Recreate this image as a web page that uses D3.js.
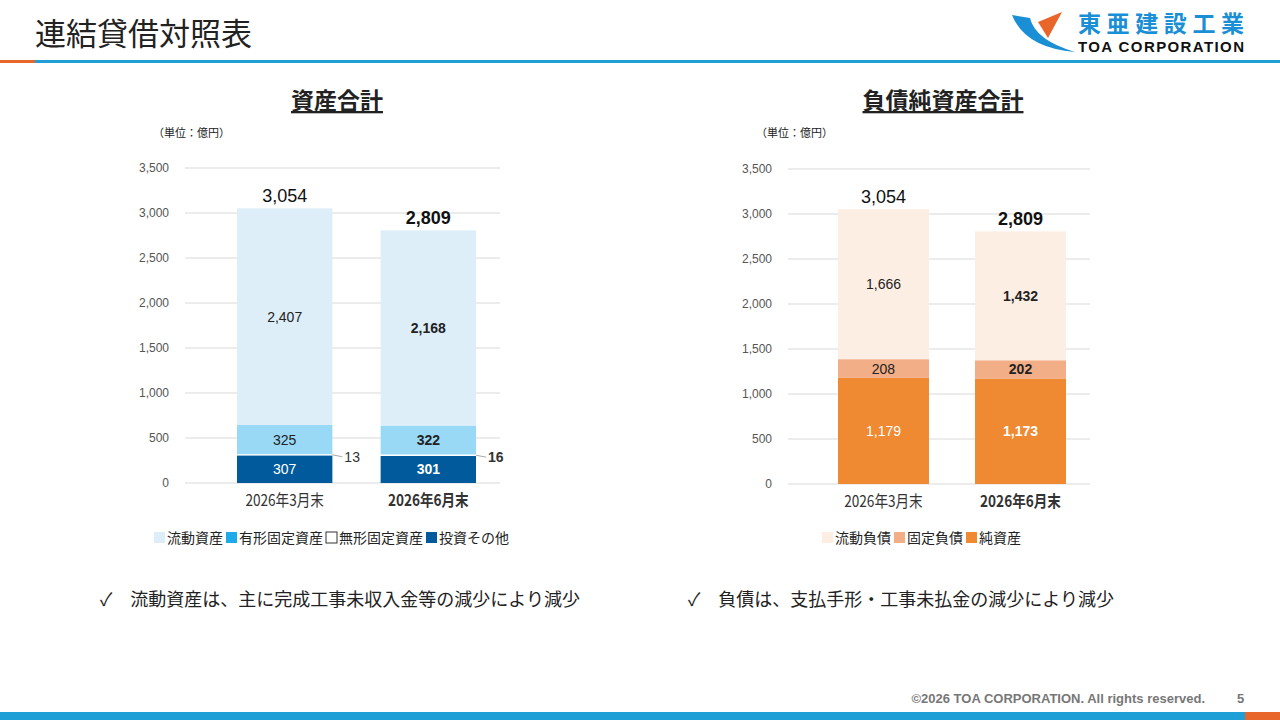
<!DOCTYPE html>
<html><head><meta charset="utf-8">
<script src="https://cdn.jsdelivr.net/npm/d3@7"></script>
<style>body{margin:0;background:#fff;font-family:"Noto Sans CJK JP","Noto Sans",sans-serif}</style>
</head><body>
<svg id="c" width="1280" height="720"></svg>
<script>
const categories = ["2026年3月末", "2026年6月末"];
const yTicks = [0,500,1000,1500,2000,2500,3000,3500];
const assetSeries = ["投資その他","無形固定資産","有形固定資産","流動資産"];
const assetValues = [[307,301],[13,16],[325,322],[2407,2168]];
const assetTotals = [3054, 2809];
const liabSeries = ["純資産","固定負債","流動負債"];
const liabValues = [[1179,1173],[208,202],[1666,1432]];
const liabTotals = [3054, 2809];

const svg = d3.select("#c");
const F = '"Noto Sans CJK JP",sans-serif';
svg.append("text").attr("x",35).attr("y",45).attr("font-size",31).attr("font-family",F).attr("fill","#222").text("連結貸借対照表");
svg.append("rect").attr("x",0).attr("y",60).attr("width",1280).attr("height",3).attr("fill","#1ea0d7");
svg.append("rect").attr("x",0).attr("y",60).attr("width",35).attr("height",3).attr("fill","#e8662a");
svg.append("text").attr("x",1078).attr("y",32).attr("font-size",23).attr("font-weight","bold").attr("font-family",F).attr("fill","#1a8fd6").attr("textLength",166).text("東亜建設工業");
svg.append("text").attr("x",1078).attr("y",52).attr("font-size",15).attr("font-weight","bold").attr("font-family","Liberation Sans Narrow,Arial").attr("fill","#111").attr("textLength",166).text("TOA CORPORATION");
svg.append("path").attr("d","M1012 15 Q1025 48 1075 52 Q1035 40 1030 18 Z").attr("fill","#1a8fd6");
svg.append("path").attr("d","M1038 22 L1062 12 L1048 38 Z").attr("fill","#e8662a");
svg.append("rect").attr("x",0).attr("y",712).attr("width",1280).attr("height",8).attr("fill","#1ea0d7");
svg.append("rect").attr("x",1245).attr("y",712).attr("width",35).attr("height",8).attr("fill","#e8662a");
svg.append("text").attr("x",1205).attr("y",703).attr("text-anchor","end").attr("font-size",13).attr("font-weight","bold").attr("font-family","Liberation Sans,Arial").attr("fill","#777").text("©2026 TOA CORPORATION. All rights reserved.");
svg.append("text").attr("x",1237).attr("y",703).attr("font-size",13).attr("font-weight","bold").attr("font-family","Liberation Sans,Arial").attr("fill","#777").text("5");

function chart(o){
  const g = svg.append("g");
  const y = d3.scaleLinear().domain([0,3500]).range([o.y0,o.y0-315]);
  const x = d3.scaleBand().domain(categories).range([o.b0,o.b1]).paddingInner(0.336).paddingOuter(0);
  g.append("text").attr("x",o.tx).attr("y",109).attr("text-anchor","middle").attr("font-size",23).attr("font-weight","bold").attr("font-family",F).attr("fill","#222").attr("text-decoration","underline").text(o.title);
  g.append("text").attr("x",o.x0-32).attr("y",137).attr("font-size",11).attr("font-family",F).attr("fill","#222").text("（単位：億円）");
  yTicks.forEach(t=>{
    g.append("line").attr("x1",o.x0).attr("x2",o.x1).attr("y1",y(t)).attr("y2",y(t)).attr("stroke","#d9d9d9");
    g.append("text").attr("x",o.x0-16).attr("y",y(t)+4).attr("text-anchor","end").attr("font-size",12).attr("font-family","Liberation Sans,Arial").attr("fill","#555").text(d3.format(",")(t));
  });
  const stack = categories.map((c,i)=>{let acc=0;return o.values.map((v,s)=>{const r={s,c,i,v:v[i],lo:acc,hi:acc+v[i]};acc+=v[i];return r;});});
  stack.flat().forEach(d=>{
    g.append("rect").attr("x",x(d.c)).attr("width",x.bandwidth()).attr("y",y(d.hi)).attr("height",y(d.lo)-y(d.hi)).attr("fill",o.colors[d.s]);
    if(o.outside && o.outside(d)){
      const xr=x(d.c)+x.bandwidth(), ym=y((d.lo+d.hi)/2);
      g.append("line").attr("x1",xr).attr("x2",xr+10).attr("y1",ym).attr("y2",ym+2).attr("stroke","#aaa");
      g.append("text").attr("x",xr+12).attr("y",ym+7).attr("font-size",14).attr("font-weight",d.i?"bold":"normal").attr("font-family","Liberation Sans,Arial").attr("fill","#333").text(d.v);
    } else {
      g.append("text").attr("x",x(d.c)+x.bandwidth()/2).attr("y",y((d.lo+d.hi)/2)+5).attr("text-anchor","middle").attr("font-size",14).attr("font-weight",d.i?"bold":"normal").attr("font-family","Liberation Sans,Arial").attr("fill",o.txt[d.s]).text(d3.format(",")(d.v));
    }
  });
  categories.forEach((c,i)=>{
    const cx=x(c)+x.bandwidth()/2;
    g.append("text").attr("x",cx).attr("y",y(o.totals[i])-6).attr("text-anchor","middle").attr("font-size",18).attr("font-weight",i?"bold":"normal").attr("font-family","Liberation Sans,Arial").attr("fill","#111").text(d3.format(",")(o.totals[i]));
    g.append("text").attr("x",cx).attr("y",o.y0+23).attr("text-anchor","middle").attr("font-size",16).attr("font-weight",i?"bold":"normal").attr("font-family",F).attr("fill","#333").attr("transform",`translate(${cx},0) scale(0.85,1) translate(${-cx},0)`).text(c);
  });
  let lx=o.lx;
  o.legend.forEach(l=>{
    g.append("rect").attr("x",lx).attr("y",532).attr("width",11).attr("height",11).attr("fill",l.c).attr("stroke",l.c==="#ffffff"?"#333":"none");
    const t=g.append("text").attr("x",lx+13).attr("y",543).attr("font-size",14).attr("font-family",F).attr("fill","#222").text(l.n);
    lx+=13+t.node().getComputedTextLength()+3;
  });
}
chart({title:"資産合計",tx:337,x0:185,x1:500,b0:237,b1:476,y0:483,values:assetValues,totals:assetTotals,
  colors:["#005a9c","#ffffff","#99d9f5","#ddeef9"],txt:["#fff","#333","#222","#222"],
  outside:d=>d.s===1,lx:154,
  legend:[{n:"流動資産",c:"#ddeef9"},{n:"有形固定資産",c:"#1eaae8"},{n:"無形固定資産",c:"#ffffff"},{n:"投資その他",c:"#005a9c"}]});
chart({title:"負債純資産合計",tx:943,x0:788,x1:1090,b0:838,b1:1066,y0:484,values:liabValues,totals:liabTotals,
  colors:["#ef8a32","#f2ae86","#fdeee4"],txt:["#fff","#222","#222"],lx:822,
  legend:[{n:"流動負債",c:"#fdeee4"},{n:"固定負債",c:"#f2ae86"},{n:"純資産",c:"#ef8a32"}]});
[["✓　流動資産は、主に完成工事未収入金等の減少により減少",100],["✓　負債は、支払手形・工事未払金の減少により減少",688]].forEach(([t,x])=>{
  svg.append("text").attr("x",x).attr("y",606).attr("font-size",18).attr("font-family",F).attr("fill","#222").text(t);
});
</script>
</body></html>
